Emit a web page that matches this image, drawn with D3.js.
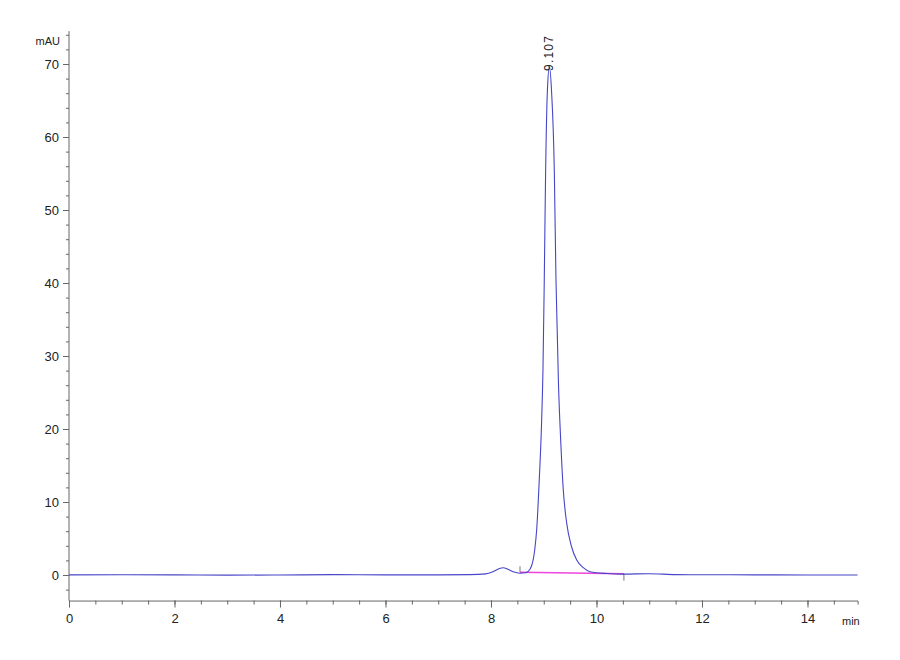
<!DOCTYPE html>
<html>
<head>
<meta charset="utf-8">
<script src="https://cdn.jsdelivr.net/npm/d3@7"></script>
<style>
  body { margin: 0; background: #fff; }
  svg { display: block; }
</style>
</head>
<body>
<div id="chart"></div>
<script>
// Chromatogram: absorbance (mAU) vs retention time (min)

// retention time (min)
const time = [0, 1, 2, 3, 4, 5, 6, 7, 7.6, 7.9, 8.05, 8.15, 8.23, 8.32, 8.42, 8.55, 8.65, 8.7,
  8.772, 8.83, 8.866, 8.915, 8.955, 8.985, 9.01, 9.036, 9.07, 9.107, 9.15, 9.2, 9.232, 9.28, 9.321,
  9.371, 9.435, 9.53, 9.625, 9.75, 9.877, 10.2, 10.5, 11.0, 11.5, 12, 13, 14, 14.95];
// signal (mAU)
const signal = [0.02, 0.03, 0.02, -0.02, 0.0, 0.05, 0.02, 0.02, 0.05, 0.15, 0.5, 0.85, 1.0, 0.8, 0.45, 0.25, 0.3, 0.45,
  1.3, 3.5, 6.2, 13.0, 20.0, 28.0, 40.4, 55.5, 66.5, 69.6, 66.0, 55.5, 40.4, 26.0, 18.5,
  11.6, 7.1, 3.8, 2.05, 1.0, 0.45, 0.2, 0.12, 0.18, 0.05, 0.03, 0.02, 0.0, 0.0];

// integration baseline (start / end)
const baseTime = [8.55, 10.52];
const baseValue = [0.37, 0.18];

// peak annotation
const peakTime = 9.107;
const peakHeight = 69.6;
const peakLabel = "9.107";

// axis ticks
const xMajor = [0, 2, 4, 6, 8, 10, 12, 14];
const xMinor = d3.range(0, 15, 0.5);
const yMajor = [0, 10, 20, 30, 40, 50, 60, 70];
const yMinor = d3.range(-2, 75, 2);

const width = 900;
const height = 660;
const font = "'Liberation Sans Narrow', 'Liberation Sans', Arial, sans-serif";
const axisColor = "#666";

const svg = d3.select("#chart")
  .append("svg")
  .attr("width", width)
  .attr("height", height)
  .style("background", "#fff");

const xScale = d3.scaleLinear()
  .domain([0, 14.95])
  .range([69, 857.6]);

const yScale = d3.scaleLinear()
  .domain([-3.5, 74.5])
  .range([600.55, 31.15]);

const axisY = yScale(-3.5);

// X axis: minor ticks
svg.append("g")
  .attr("transform", `translate(0,${axisY})`)
  .call(d3.axisBottom(xScale).tickValues(xMinor).tickSize(4).tickFormat(""))
  .call(g => g.select(".domain").attr("stroke", axisColor))
  .call(g => g.selectAll(".tick line").attr("stroke", axisColor));

// X axis: major ticks + labels
svg.append("g")
  .attr("transform", `translate(0,${axisY})`)
  .call(d3.axisBottom(xScale).tickValues(xMajor).tickSize(7).tickPadding(6).tickFormat(d3.format("d")))
  .call(g => g.select(".domain").remove())
  .call(g => g.selectAll(".tick line").attr("stroke", axisColor))
  .call(g => g.selectAll(".tick text")
    .attr("fill", "#222")
    .style("font-family", font)
    .style("font-size", "13px"));

svg.append("text")
  .attr("x", 842)
  .attr("y", 625)
  .attr("fill", "#222")
  .style("font-family", font)
  .style("font-size", "11px")
  .text("min");

// Y axis: minor ticks
svg.append("g")
  .attr("transform", `translate(${xScale(0)},0)`)
  .call(d3.axisLeft(yScale).tickValues(yMinor).tickSize(3).tickFormat(""))
  .call(g => g.select(".domain").attr("stroke", axisColor).attr("d", `M0,${axisY}V${yScale(74.5)}`))
  .call(g => g.selectAll(".tick line").attr("stroke", axisColor));

// Y axis: major ticks + labels
svg.append("g")
  .attr("transform", `translate(${xScale(0)},0)`)
  .call(d3.axisLeft(yScale).tickValues(yMajor).tickSize(6).tickPadding(4).tickFormat(d3.format("d")))
  .call(g => g.select(".domain").remove())
  .call(g => g.selectAll(".tick line").attr("stroke", axisColor))
  .call(g => g.selectAll(".tick text")
    .attr("fill", "#222")
    .style("font-family", font)
    .style("font-size", "13px"));

svg.append("text")
  .attr("x", 60)
  .attr("y", 45)
  .attr("text-anchor", "end")
  .attr("fill", "#222")
  .style("font-family", font)
  .style("font-size", "11px")
  .text("mAU");

// Integration baseline
svg.append("line")
  .attr("x1", xScale(baseTime[0]))
  .attr("y1", yScale(baseValue[0]))
  .attr("x2", xScale(baseTime[1]))
  .attr("y2", yScale(baseValue[1]))
  .attr("stroke", "#ee44dd")
  .attr("stroke-width", 1.5);

// start / end markers of the baseline
svg.append("line")
  .attr("x1", xScale(baseTime[0]))
  .attr("x2", xScale(baseTime[0]))
  .attr("y1", yScale(baseValue[0]) - 6)
  .attr("y2", yScale(baseValue[0]))
  .attr("stroke", "#777");

svg.append("line")
  .attr("x1", xScale(baseTime[1]))
  .attr("x2", xScale(baseTime[1]))
  .attr("y1", yScale(baseValue[1]))
  .attr("y2", yScale(baseValue[1]) + 7)
  .attr("stroke", "#777");

// Signal trace
const points = time.map((t, i) => [t, signal[i]]);

const line = d3.line()
  .x(d => xScale(d[0]))
  .y(d => yScale(d[1]))
  .curve(d3.curveMonotoneX);

svg.append("path")
  .datum(points)
  .attr("fill", "none")
  .attr("stroke", "#4646c8")
  .attr("stroke-width", 1.1)
  .attr("d", line);

// Peak label
svg.append("text")
  .attr("transform", `translate(${xScale(peakTime) + 4},${yScale(peakHeight) + 4}) rotate(-90)`)
  .attr("fill", "#222")
  .style("font-family", "'Liberation Sans', Arial, sans-serif")
  .style("font-size", "12px")
  .style("letter-spacing", "1.2px")
  .text(peakLabel);
</script>
</body>
</html>
